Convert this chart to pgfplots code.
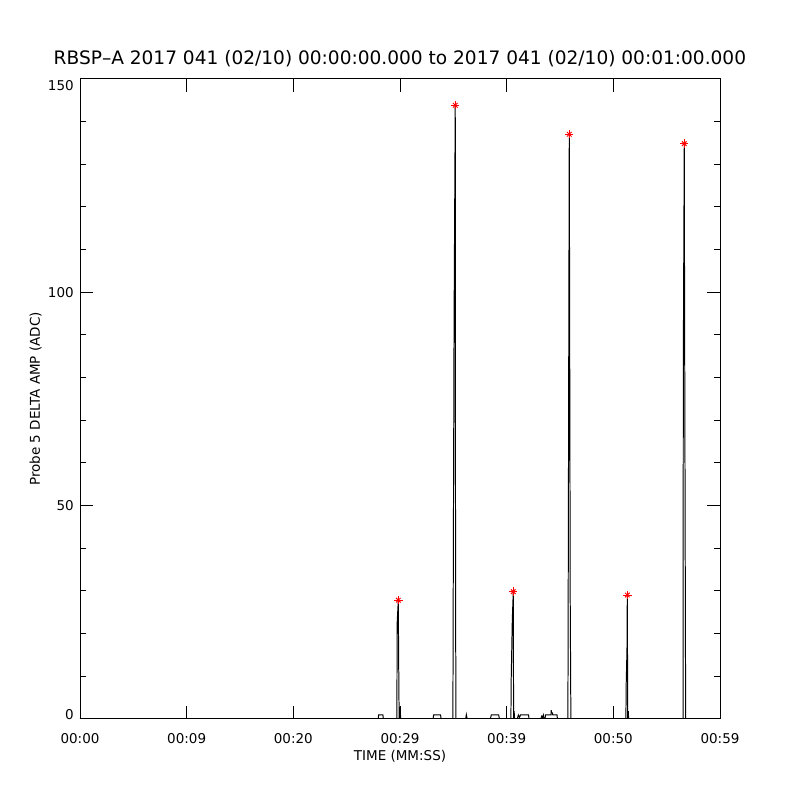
\documentclass[border=0pt]{standalone}
\usepackage{fontspec}
\setmainfont{DejaVu Sans}
\usepackage{pgfplots}
\usepackage{pgfplotstable}
\pgfplotsset{compat=1.18}
\pgfplotstableread{
t v
0 0
27.96 0
28.00 0.9
28.40 0.9
28.44 0
29.71 0
29.73 22.2
29.84 27.8
29.87 15.3
29.92 0
29.98 0
30.02 2.8
30.06 0
33.10 0
33.16 0.9
33.80 0.9
33.86 0
34.96 0
34.98 21.2
35.07 93.3
35.18 143.8
35.21 26.2
35.25 0
36.16 0
36.22 1.0
36.30 0
38.48 0
38.56 0.9
39.25 0.9
39.32 0
40.40 0
40.42 8.4
40.53 23.4
40.62 29.8
40.65 0
40.70 1.8
40.74 0
41.00 0
41.05 0.5
41.10 0.9
41.20 0.3
41.30 0.9
42.05 0.9
42.10 0
43.20 0
43.28 0.6
43.36 0.3
43.44 0.9
43.50 0
43.60 0
43.64 0.9
44.16 0.9
44.18 2.0
44.20 1.4
44.30 1.4
44.32 0.9
44.72 0.9
44.76 0
45.74 0
45.76 18.2
45.83 96.2
45.87 137.0
45.96 27.4
46.02 0
51.18 0
51.20 7.3
51.28 16.3
51.31 29.0
51.35 0
51.40 1.8
51.44 0
56.54 0
56.56 83.3
56.65 134.8
56.68 97.4
56.78 0
60 0
}\signal
\pgfplotstableread{
t v
29.84 27.8
35.18 143.8
40.62 29.8
45.87 137.0
51.31 29.0
56.65 134.8
}\peaks
\begin{document}
\begin{tikzpicture}
\useasboundingbox (-2cm,-2.03cm) rectangle (18cm,17.97cm);
\begin{axis}[
  at={(0,0)}, anchor=south west,
  scale only axis, width=16cm, height=16cm,
  xmin=0, xmax=60, ymin=0, ymax=150,
  axis line style={line width=0.7pt},
  xtick={0,10,20,30,40,50,60},
  xticklabels={00:00,00:09,00:20,00:29,00:39,00:50,00:59},
  ytick={0,50,100,150},
  yticklabels={\raisebox{0.1cm}[0.25cm][0pt]{0},50,100,\raisebox{-0.175cm}[0.25cm][0pt]{150}},
  minor ytick={10,20,30,40,60,70,80,90,110,120,130,140},
  xtick pos=both, ytick pos=both, tick align=inside,
  major tick length=0.325cm, minor tick length=0.15cm,
  every tick/.style={black, line width=0.7pt},
  ticklabel style={font=\fontsize{9.6}{11}\selectfont},
  xticklabel style={anchor=base, yshift=-0.6075cm},
  yticklabel style={anchor=east, inner sep=0pt, xshift=-0.15cm},
  title={RBSP--A 2017 041 (02/10) 00:00:00.000 to 2017 041 (02/10) 00:01:00.000},
  title style={font=\fontsize{13.2}{15}\selectfont, at={(axis description cs:0.5,1)}, anchor=base, yshift=0.15cm},
  xlabel={TIME (MM:SS)},
  xlabel style={font=\fontsize{9.6}{11}\selectfont, at={(axis description cs:0.5,0)}, anchor=base, yshift=-1.05cm},
  ylabel={Probe 5 DELTA AMP (ADC)},
  ylabel style={font=\fontsize{9.6}{11}\selectfont, at={(axis description cs:0,0.5)}, rotate=0, anchor=base, yshift=1.0cm},
]
\addplot[black, line width=0.7pt, sharp plot] table[x=t, y=v] {\signal};
\addplot[red, only marks, mark=+, mark size=3.0pt, mark options={line width=0.7pt}] table[x=t, y=v] {\peaks};
\addplot[red, only marks, mark=x, mark size=2.3pt, mark options={line width=0.7pt}] table[x=t, y=v] {\peaks};
\end{axis}
\end{tikzpicture}
\end{document}
